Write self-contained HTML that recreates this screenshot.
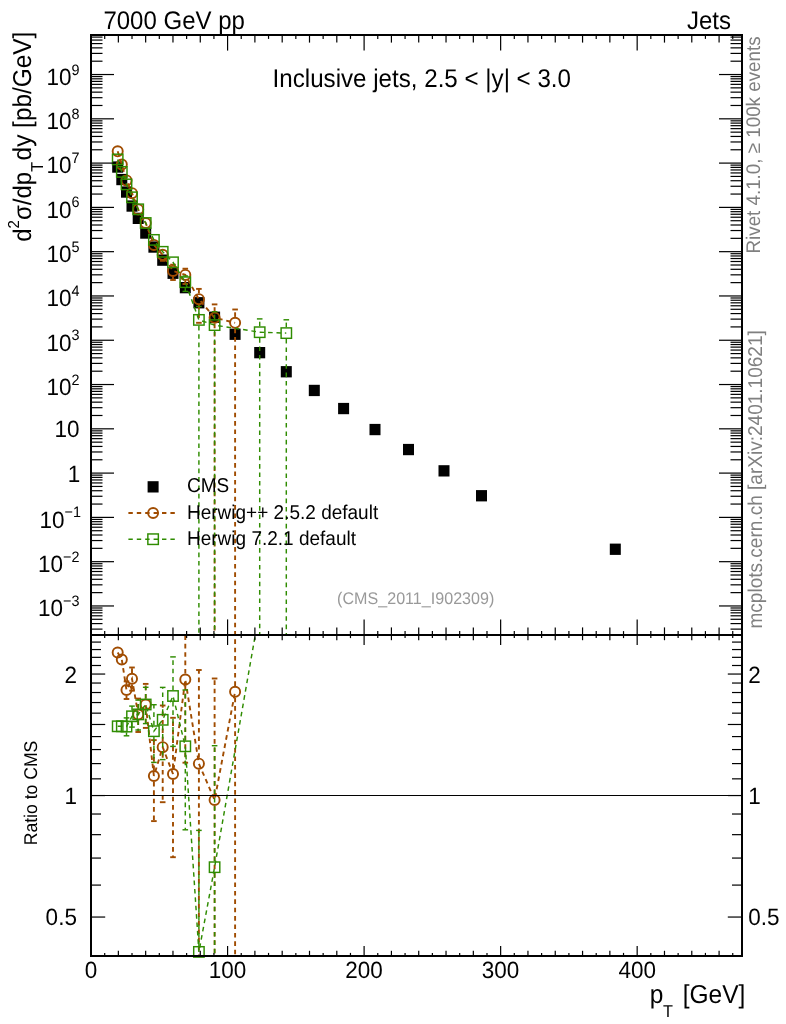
<!DOCTYPE html>
<html><head><meta charset="utf-8"><title>Inclusive jets</title>
<style>html,body{margin:0;padding:0;background:#fff}svg{display:block;text-rendering:geometricPrecision;will-change:transform;opacity:0.999}</style></head>
<body>
<svg width="786" height="1024" viewBox="0 0 786 1024" font-family="'Liberation Sans', sans-serif">
<rect width="786" height="1024" fill="#fff"/>
<defs><clipPath id="cm"><rect x="91.0" y="35.0" width="651.0" height="600.0"/></clipPath><clipPath id="cr"><rect x="91.0" y="635.0" width="651.0" height="321.0"/></clipPath></defs>
<g fill="#000">
<rect x="112.2" y="161.4" width="11" height="11.3"/>
<rect x="116.3" y="173.9" width="11" height="11.3"/>
<rect x="121.0" y="186.4" width="11" height="11.3"/>
<rect x="126.5" y="200.4" width="11" height="11.3"/>
<rect x="132.7" y="212.7" width="11" height="11.3"/>
<rect x="140.2" y="227.4" width="11" height="11.3"/>
<rect x="148.4" y="241.4" width="11" height="11.3"/>
<rect x="157.2" y="254.5" width="11" height="11.3"/>
<rect x="167.5" y="267.6" width="11" height="11.3"/>
<rect x="179.8" y="282.0" width="11" height="11.3"/>
<rect x="193.4" y="297.1" width="11" height="11.3"/>
<rect x="209.1" y="311.6" width="11" height="11.3"/>
<rect x="229.6" y="328.6" width="11" height="11.3"/>
<rect x="254.2" y="347.0" width="11" height="11.3"/>
<rect x="280.8" y="366.1" width="11" height="11.3"/>
<rect x="308.8" y="384.8" width="11" height="11.3"/>
<rect x="338.1" y="402.9" width="11" height="11.3"/>
<rect x="369.5" y="423.9" width="11" height="11.3"/>
<rect x="403.0" y="443.9" width="11" height="11.3"/>
<rect x="438.5" y="465.2" width="11" height="11.3"/>
<rect x="476.0" y="490.1" width="11" height="11.3"/>
<rect x="609.8" y="543.6" width="11" height="11.3"/>
</g>
<g clip-path="url(#cm)" fill="none" stroke="#a04c00" stroke-width="1.9">
<polyline stroke-dasharray="4.6 3.8" points="117.7,151.3 121.8,164.6 126.5,180.4 132.0,193.2 138.2,209.4 145.7,223.0 153.9,244.9 162.7,254.8 173.0,270.9 185.3,274.9 198.9,299.2 214.6,317.7 235.1,322.8"/>
<line stroke-dasharray="4.6 3.8" x1="162.7" y1="260.7" x2="162.7" y2="260.8"/>
<line x1="159.9" y1="260.8" x2="165.5" y2="260.8"/>
<line stroke-dasharray="4.6 3.8" x1="173.0" y1="265.0" x2="173.0" y2="264.7"/>
<line x1="170.2" y1="264.7" x2="175.8" y2="264.7"/>
<line stroke-dasharray="4.6 3.8" x1="173.0" y1="276.8" x2="173.0" y2="280.0"/>
<line x1="170.2" y1="280.0" x2="175.8" y2="280.0"/>
<line stroke-dasharray="4.6 3.8" x1="185.3" y1="269.0" x2="185.3" y2="268.7"/>
<line x1="182.5" y1="268.7" x2="188.1" y2="268.7"/>
<line stroke-dasharray="4.6 3.8" x1="185.3" y1="280.8" x2="185.3" y2="284.0"/>
<line x1="182.5" y1="284.0" x2="188.1" y2="284.0"/>
<line stroke-dasharray="4.6 3.8" x1="198.9" y1="293.3" x2="198.9" y2="288.9"/>
<line x1="196.1" y1="288.9" x2="201.7" y2="288.9"/>
<line stroke-dasharray="4.6 3.8" x1="198.9" y1="305.1" x2="198.9" y2="322.8"/>
<line x1="196.1" y1="322.8" x2="201.7" y2="322.8"/>
<line stroke-dasharray="4.6 3.8" x1="214.6" y1="311.8" x2="214.6" y2="304.4"/>
<line x1="211.8" y1="304.4" x2="217.4" y2="304.4"/>
<line stroke-dasharray="4.6 3.8" x1="214.6" y1="323.6" x2="214.6" y2="640.0"/>
<line stroke-dasharray="4.6 3.8" x1="235.1" y1="316.9" x2="235.1" y2="309.5"/>
<line x1="232.3" y1="309.5" x2="237.9" y2="309.5"/>
<line stroke-dasharray="4.6 3.8" x1="235.1" y1="328.7" x2="235.1" y2="640.0"/>
</g>
<g fill="none" stroke="#a04c00" stroke-width="1.9">
<circle cx="117.7" cy="151.3" r="5.05"/>
<circle cx="121.8" cy="164.6" r="5.05"/>
<circle cx="126.5" cy="180.4" r="5.05"/>
<circle cx="132.0" cy="193.2" r="5.05"/>
<circle cx="138.2" cy="209.4" r="5.05"/>
<circle cx="145.7" cy="223.0" r="5.05"/>
<circle cx="153.9" cy="244.9" r="5.05"/>
<circle cx="162.7" cy="254.8" r="5.05"/>
<circle cx="173.0" cy="270.9" r="5.05"/>
<circle cx="185.3" cy="274.9" r="5.05"/>
<circle cx="198.9" cy="299.2" r="5.05"/>
<circle cx="214.6" cy="317.7" r="5.05"/>
<circle cx="235.1" cy="322.8" r="5.05"/>
</g>
<g clip-path="url(#cr)" fill="none" stroke="#a04c00" stroke-width="1.9">
<polyline stroke-dasharray="4.6 3.8" points="117.7,652.6 121.8,659.5 126.5,690.0 132.0,678.8 138.2,714.5 145.7,704.5 153.9,776.0 162.7,747.2 173.0,774.0 185.3,679.5 198.9,763.7 214.6,800.0 235.1,691.8"/>
<line stroke-dasharray="4.6 3.8" x1="126.5" y1="684.1" x2="126.5" y2="681.4"/>
<line x1="123.7" y1="681.4" x2="129.3" y2="681.4"/>
<line stroke-dasharray="4.6 3.8" x1="126.5" y1="695.9" x2="126.5" y2="699.0"/>
<line x1="123.7" y1="699.0" x2="129.3" y2="699.0"/>
<line stroke-dasharray="4.6 3.8" x1="132.0" y1="672.9" x2="132.0" y2="667.5"/>
<line x1="129.2" y1="667.5" x2="134.8" y2="667.5"/>
<line stroke-dasharray="4.6 3.8" x1="132.0" y1="684.6" x2="132.0" y2="690.7"/>
<line x1="129.2" y1="690.7" x2="134.8" y2="690.7"/>
<line stroke-dasharray="4.6 3.8" x1="138.2" y1="708.6" x2="138.2" y2="698.6"/>
<line x1="135.4" y1="698.6" x2="141.0" y2="698.6"/>
<line stroke-dasharray="4.6 3.8" x1="138.2" y1="720.4" x2="138.2" y2="732.0"/>
<line x1="135.4" y1="732.0" x2="141.0" y2="732.0"/>
<line stroke-dasharray="4.6 3.8" x1="145.7" y1="698.6" x2="145.7" y2="683.9"/>
<line x1="142.9" y1="683.9" x2="148.5" y2="683.9"/>
<line stroke-dasharray="4.6 3.8" x1="145.7" y1="710.4" x2="145.7" y2="727.9"/>
<line x1="142.9" y1="727.9" x2="148.5" y2="727.9"/>
<line stroke-dasharray="4.6 3.8" x1="153.9" y1="770.1" x2="153.9" y2="740.1"/>
<line x1="151.1" y1="740.1" x2="156.7" y2="740.1"/>
<line stroke-dasharray="4.6 3.8" x1="153.9" y1="781.9" x2="153.9" y2="821.1"/>
<line x1="151.1" y1="821.1" x2="156.7" y2="821.1"/>
<line stroke-dasharray="4.6 3.8" x1="162.7" y1="741.4" x2="162.7" y2="705.5"/>
<line x1="159.9" y1="705.5" x2="165.5" y2="705.5"/>
<line stroke-dasharray="4.6 3.8" x1="162.7" y1="753.1" x2="162.7" y2="802.2"/>
<line x1="159.9" y1="802.2" x2="165.5" y2="802.2"/>
<line stroke-dasharray="4.6 3.8" x1="173.0" y1="768.1" x2="173.0" y2="717.8"/>
<line x1="170.2" y1="717.8" x2="175.8" y2="717.8"/>
<line stroke-dasharray="4.6 3.8" x1="173.0" y1="779.9" x2="173.0" y2="857.2"/>
<line x1="170.2" y1="857.2" x2="175.8" y2="857.2"/>
<line stroke-dasharray="4.6 3.8" x1="185.3" y1="673.6" x2="185.3" y2="623.3"/>
<line x1="182.5" y1="623.3" x2="188.1" y2="623.3"/>
<line stroke-dasharray="4.6 3.8" x1="185.3" y1="685.4" x2="185.3" y2="762.7"/>
<line x1="182.5" y1="762.7" x2="188.1" y2="762.7"/>
<line stroke-dasharray="4.6 3.8" x1="198.9" y1="757.8" x2="198.9" y2="670.0"/>
<line x1="196.1" y1="670.0" x2="201.7" y2="670.0"/>
<line stroke-dasharray="4.6 3.8" x1="198.9" y1="769.6" x2="198.9" y2="978.9"/>
<line x1="196.1" y1="978.9" x2="201.7" y2="978.9"/>
<line stroke-dasharray="4.6 3.8" x1="214.6" y1="794.1" x2="214.6" y2="678.5"/>
<line x1="211.8" y1="678.5" x2="217.4" y2="678.5"/>
<line stroke-dasharray="4.6 3.8" x1="214.6" y1="805.9" x2="214.6" y2="961.0"/>
<line stroke-dasharray="4.6 3.8" x1="235.1" y1="685.9" x2="235.1" y2="570.3"/>
<line x1="232.3" y1="570.3" x2="237.9" y2="570.3"/>
<line stroke-dasharray="4.6 3.8" x1="235.1" y1="697.7" x2="235.1" y2="961.0"/>
</g>
<g fill="none" stroke="#a04c00" stroke-width="1.9">
<circle cx="117.7" cy="652.6" r="5.05"/>
<circle cx="121.8" cy="659.5" r="5.05"/>
<circle cx="126.5" cy="690.0" r="5.05"/>
<circle cx="132.0" cy="678.8" r="5.05"/>
<circle cx="138.2" cy="714.5" r="5.05"/>
<circle cx="145.7" cy="704.5" r="5.05"/>
<circle cx="153.9" cy="776.0" r="5.05"/>
<circle cx="162.7" cy="747.2" r="5.05"/>
<circle cx="173.0" cy="774.0" r="5.05"/>
<circle cx="185.3" cy="679.5" r="5.05"/>
<circle cx="198.9" cy="763.7" r="5.05"/>
<circle cx="214.6" cy="800.0" r="5.05"/>
<circle cx="235.1" cy="691.8" r="5.05"/>
</g>
<g clip-path="url(#cm)" fill="none" stroke="#2f8c00" stroke-width="1.45">
<polyline stroke-dasharray="4.6 3.8" points="117.7,159.4 121.8,171.9 126.5,184.4 132.0,197.3 138.2,209.3 145.7,223.0 153.9,239.9 162.7,251.8 173.0,262.3 185.3,282.2 198.9,319.9 214.6,325.1 259.7,332.2 286.3,333.1"/>
<line stroke-dasharray="4.6 3.8" x1="185.3" y1="276.3" x2="185.3" y2="276.0"/>
<line x1="182.5" y1="276.0" x2="188.1" y2="276.0"/>
<line stroke-dasharray="4.6 3.8" x1="185.3" y1="288.1" x2="185.3" y2="291.4"/>
<line x1="182.5" y1="291.4" x2="188.1" y2="291.4"/>
<line stroke-dasharray="4.6 3.8" x1="198.9" y1="314.0" x2="198.9" y2="306.5"/>
<line x1="196.1" y1="306.5" x2="201.7" y2="306.5"/>
<line stroke-dasharray="4.6 3.8" x1="198.9" y1="325.8" x2="198.9" y2="640.0"/>
<line stroke-dasharray="4.6 3.8" x1="214.6" y1="319.2" x2="214.6" y2="311.7"/>
<line x1="211.8" y1="311.7" x2="217.4" y2="311.7"/>
<line stroke-dasharray="4.6 3.8" x1="214.6" y1="331.0" x2="214.6" y2="640.0"/>
<line stroke-dasharray="4.6 3.8" x1="259.7" y1="326.3" x2="259.7" y2="318.9"/>
<line x1="256.9" y1="318.9" x2="262.5" y2="318.9"/>
<line stroke-dasharray="4.6 3.8" x1="259.7" y1="338.1" x2="259.7" y2="640.0"/>
<line stroke-dasharray="4.6 3.8" x1="286.3" y1="327.2" x2="286.3" y2="319.8"/>
<line x1="283.5" y1="319.8" x2="289.1" y2="319.8"/>
<line stroke-dasharray="4.6 3.8" x1="286.3" y1="339.0" x2="286.3" y2="640.0"/>
</g>
<g fill="none" stroke="#2f8c00" stroke-width="1.45">
<rect x="112.5" y="154.2" width="10.4" height="10.4"/>
<rect x="116.6" y="166.7" width="10.4" height="10.4"/>
<rect x="121.3" y="179.2" width="10.4" height="10.4"/>
<rect x="126.8" y="192.1" width="10.4" height="10.4"/>
<rect x="133.0" y="204.1" width="10.4" height="10.4"/>
<rect x="140.5" y="217.8" width="10.4" height="10.4"/>
<rect x="148.7" y="234.7" width="10.4" height="10.4"/>
<rect x="157.5" y="246.6" width="10.4" height="10.4"/>
<rect x="167.8" y="257.1" width="10.4" height="10.4"/>
<rect x="180.1" y="277.0" width="10.4" height="10.4"/>
<rect x="193.7" y="314.7" width="10.4" height="10.4"/>
<rect x="209.4" y="319.9" width="10.4" height="10.4"/>
<rect x="254.5" y="327.0" width="10.4" height="10.4"/>
<rect x="281.1" y="327.9" width="10.4" height="10.4"/>
</g>
<g clip-path="url(#cr)" fill="none" stroke="#2f8c00" stroke-width="1.45">
<polyline stroke-dasharray="4.6 3.8" points="117.7,726.3 121.8,726.3 126.5,726.6 132.0,716.3 138.2,714.4 145.7,704.5 153.9,731.2 162.7,719.8 173.0,696.0 185.3,746.3 198.9,951.9 214.6,867.2 259.7,609.7 286.3,443.8"/>
<line stroke-dasharray="4.6 3.8" x1="126.5" y1="720.7" x2="126.5" y2="717.9"/>
<line x1="123.7" y1="717.9" x2="129.3" y2="717.9"/>
<line stroke-dasharray="4.6 3.8" x1="126.5" y1="732.5" x2="126.5" y2="735.8"/>
<line x1="123.7" y1="735.8" x2="129.3" y2="735.8"/>
<line stroke-dasharray="4.6 3.8" x1="132.0" y1="710.4" x2="132.0" y2="706.1"/>
<line x1="129.2" y1="706.1" x2="134.8" y2="706.1"/>
<line stroke-dasharray="4.6 3.8" x1="132.0" y1="722.2" x2="132.0" y2="727.1"/>
<line x1="129.2" y1="727.1" x2="134.8" y2="727.1"/>
<line stroke-dasharray="4.6 3.8" x1="138.2" y1="708.5" x2="138.2" y2="700.1"/>
<line x1="135.4" y1="700.1" x2="141.0" y2="700.1"/>
<line stroke-dasharray="4.6 3.8" x1="138.2" y1="720.3" x2="138.2" y2="730.0"/>
<line x1="135.4" y1="730.0" x2="141.0" y2="730.0"/>
<line stroke-dasharray="4.6 3.8" x1="145.7" y1="698.6" x2="145.7" y2="687.3"/>
<line x1="142.9" y1="687.3" x2="148.5" y2="687.3"/>
<line stroke-dasharray="4.6 3.8" x1="145.7" y1="710.4" x2="145.7" y2="723.6"/>
<line x1="142.9" y1="723.6" x2="148.5" y2="723.6"/>
<line stroke-dasharray="4.6 3.8" x1="153.9" y1="725.3" x2="153.9" y2="704.7"/>
<line x1="151.1" y1="704.7" x2="156.7" y2="704.7"/>
<line stroke-dasharray="4.6 3.8" x1="153.9" y1="737.1" x2="153.9" y2="762.4"/>
<line x1="151.1" y1="762.4" x2="156.7" y2="762.4"/>
<line stroke-dasharray="4.6 3.8" x1="162.7" y1="713.9" x2="162.7" y2="687.4"/>
<line x1="159.9" y1="687.4" x2="165.5" y2="687.4"/>
<line stroke-dasharray="4.6 3.8" x1="162.7" y1="725.7" x2="162.7" y2="759.6"/>
<line x1="159.9" y1="759.6" x2="165.5" y2="759.6"/>
<line stroke-dasharray="4.6 3.8" x1="173.0" y1="690.1" x2="173.0" y2="656.9"/>
<line x1="170.2" y1="656.9" x2="175.8" y2="656.9"/>
<line stroke-dasharray="4.6 3.8" x1="173.0" y1="701.9" x2="173.0" y2="746.4"/>
<line x1="170.2" y1="746.4" x2="175.8" y2="746.4"/>
<line stroke-dasharray="4.6 3.8" x1="185.3" y1="740.4" x2="185.3" y2="690.0"/>
<line x1="182.5" y1="690.0" x2="188.1" y2="690.0"/>
<line stroke-dasharray="4.6 3.8" x1="185.3" y1="752.2" x2="185.3" y2="829.8"/>
<line x1="182.5" y1="829.8" x2="188.1" y2="829.8"/>
<line stroke-dasharray="4.6 3.8" x1="198.9" y1="946.0" x2="198.9" y2="830.4"/>
<line x1="196.1" y1="830.4" x2="201.7" y2="830.4"/>
<line stroke-dasharray="4.6 3.8" x1="198.9" y1="957.8" x2="198.9" y2="961.0"/>
<line stroke-dasharray="4.6 3.8" x1="214.6" y1="861.3" x2="214.6" y2="745.7"/>
<line x1="211.8" y1="745.7" x2="217.4" y2="745.7"/>
<line stroke-dasharray="4.6 3.8" x1="214.6" y1="873.1" x2="214.6" y2="961.0"/>
</g>
<g fill="none" stroke="#2f8c00" stroke-width="1.45">
<rect x="112.5" y="721.1" width="10.4" height="10.4"/>
<rect x="116.6" y="721.1" width="10.4" height="10.4"/>
<rect x="121.3" y="721.4" width="10.4" height="10.4"/>
<rect x="126.8" y="711.1" width="10.4" height="10.4"/>
<rect x="133.0" y="709.2" width="10.4" height="10.4"/>
<rect x="140.5" y="699.3" width="10.4" height="10.4"/>
<rect x="148.7" y="726.0" width="10.4" height="10.4"/>
<rect x="157.5" y="714.6" width="10.4" height="10.4"/>
<rect x="167.8" y="690.8" width="10.4" height="10.4"/>
<rect x="180.1" y="741.1" width="10.4" height="10.4"/>
<rect x="193.7" y="946.7" width="10.4" height="10.4"/>
<rect x="209.4" y="862.0" width="10.4" height="10.4"/>
</g>
<line x1="91.0" y1="795.55" x2="742.0" y2="795.55" stroke="#000" stroke-width="1.1"/>
<g stroke="#000" stroke-width="2.0" fill="none">
<rect x="91.0" y="35.0" width="651.0" height="921.0"/>
<line x1="91.0" y1="635.0" x2="742.0" y2="635.0"/>
</g>
<g stroke="#000" stroke-width="1.2">
<line x1="104.70" y1="35.0" x2="104.70" y2="38.9"/>
<line x1="104.70" y1="631.1" x2="104.70" y2="638.1"/>
<line x1="104.70" y1="956.0" x2="104.70" y2="952.9"/>
<line x1="118.36" y1="35.0" x2="118.36" y2="42.6"/>
<line x1="118.36" y1="627.4" x2="118.36" y2="640.2"/>
<line x1="118.36" y1="956.0" x2="118.36" y2="950.8"/>
<line x1="132.01" y1="35.0" x2="132.01" y2="38.9"/>
<line x1="132.01" y1="631.1" x2="132.01" y2="638.1"/>
<line x1="132.01" y1="956.0" x2="132.01" y2="952.9"/>
<line x1="145.66" y1="35.0" x2="145.66" y2="42.6"/>
<line x1="145.66" y1="627.4" x2="145.66" y2="640.2"/>
<line x1="145.66" y1="956.0" x2="145.66" y2="950.8"/>
<line x1="159.31" y1="35.0" x2="159.31" y2="38.9"/>
<line x1="159.31" y1="631.1" x2="159.31" y2="638.1"/>
<line x1="159.31" y1="956.0" x2="159.31" y2="952.9"/>
<line x1="172.97" y1="35.0" x2="172.97" y2="42.6"/>
<line x1="172.97" y1="627.4" x2="172.97" y2="640.2"/>
<line x1="172.97" y1="956.0" x2="172.97" y2="950.8"/>
<line x1="186.62" y1="35.0" x2="186.62" y2="38.9"/>
<line x1="186.62" y1="631.1" x2="186.62" y2="638.1"/>
<line x1="186.62" y1="956.0" x2="186.62" y2="952.9"/>
<line x1="200.27" y1="35.0" x2="200.27" y2="42.6"/>
<line x1="200.27" y1="627.4" x2="200.27" y2="640.2"/>
<line x1="200.27" y1="956.0" x2="200.27" y2="950.8"/>
<line x1="213.93" y1="35.0" x2="213.93" y2="38.9"/>
<line x1="213.93" y1="631.1" x2="213.93" y2="638.1"/>
<line x1="213.93" y1="956.0" x2="213.93" y2="952.9"/>
<line x1="227.58" y1="35.0" x2="227.58" y2="50.6"/>
<line x1="227.58" y1="619.4" x2="227.58" y2="645.0"/>
<line x1="227.58" y1="956.0" x2="227.58" y2="946.0"/>
<line x1="241.23" y1="35.0" x2="241.23" y2="38.9"/>
<line x1="241.23" y1="631.1" x2="241.23" y2="638.1"/>
<line x1="241.23" y1="956.0" x2="241.23" y2="952.9"/>
<line x1="254.89" y1="35.0" x2="254.89" y2="42.6"/>
<line x1="254.89" y1="627.4" x2="254.89" y2="640.2"/>
<line x1="254.89" y1="956.0" x2="254.89" y2="950.8"/>
<line x1="268.54" y1="35.0" x2="268.54" y2="38.9"/>
<line x1="268.54" y1="631.1" x2="268.54" y2="638.1"/>
<line x1="268.54" y1="956.0" x2="268.54" y2="952.9"/>
<line x1="282.19" y1="35.0" x2="282.19" y2="42.6"/>
<line x1="282.19" y1="627.4" x2="282.19" y2="640.2"/>
<line x1="282.19" y1="956.0" x2="282.19" y2="950.8"/>
<line x1="295.84" y1="35.0" x2="295.84" y2="38.9"/>
<line x1="295.84" y1="631.1" x2="295.84" y2="638.1"/>
<line x1="295.84" y1="956.0" x2="295.84" y2="952.9"/>
<line x1="309.50" y1="35.0" x2="309.50" y2="42.6"/>
<line x1="309.50" y1="627.4" x2="309.50" y2="640.2"/>
<line x1="309.50" y1="956.0" x2="309.50" y2="950.8"/>
<line x1="323.15" y1="35.0" x2="323.15" y2="38.9"/>
<line x1="323.15" y1="631.1" x2="323.15" y2="638.1"/>
<line x1="323.15" y1="956.0" x2="323.15" y2="952.9"/>
<line x1="336.80" y1="35.0" x2="336.80" y2="42.6"/>
<line x1="336.80" y1="627.4" x2="336.80" y2="640.2"/>
<line x1="336.80" y1="956.0" x2="336.80" y2="950.8"/>
<line x1="350.46" y1="35.0" x2="350.46" y2="38.9"/>
<line x1="350.46" y1="631.1" x2="350.46" y2="638.1"/>
<line x1="350.46" y1="956.0" x2="350.46" y2="952.9"/>
<line x1="364.11" y1="35.0" x2="364.11" y2="50.6"/>
<line x1="364.11" y1="619.4" x2="364.11" y2="645.0"/>
<line x1="364.11" y1="956.0" x2="364.11" y2="946.0"/>
<line x1="377.76" y1="35.0" x2="377.76" y2="38.9"/>
<line x1="377.76" y1="631.1" x2="377.76" y2="638.1"/>
<line x1="377.76" y1="956.0" x2="377.76" y2="952.9"/>
<line x1="391.42" y1="35.0" x2="391.42" y2="42.6"/>
<line x1="391.42" y1="627.4" x2="391.42" y2="640.2"/>
<line x1="391.42" y1="956.0" x2="391.42" y2="950.8"/>
<line x1="405.07" y1="35.0" x2="405.07" y2="38.9"/>
<line x1="405.07" y1="631.1" x2="405.07" y2="638.1"/>
<line x1="405.07" y1="956.0" x2="405.07" y2="952.9"/>
<line x1="418.72" y1="35.0" x2="418.72" y2="42.6"/>
<line x1="418.72" y1="627.4" x2="418.72" y2="640.2"/>
<line x1="418.72" y1="956.0" x2="418.72" y2="950.8"/>
<line x1="432.38" y1="35.0" x2="432.38" y2="38.9"/>
<line x1="432.38" y1="631.1" x2="432.38" y2="638.1"/>
<line x1="432.38" y1="956.0" x2="432.38" y2="952.9"/>
<line x1="446.03" y1="35.0" x2="446.03" y2="42.6"/>
<line x1="446.03" y1="627.4" x2="446.03" y2="640.2"/>
<line x1="446.03" y1="956.0" x2="446.03" y2="950.8"/>
<line x1="459.68" y1="35.0" x2="459.68" y2="38.9"/>
<line x1="459.68" y1="631.1" x2="459.68" y2="638.1"/>
<line x1="459.68" y1="956.0" x2="459.68" y2="952.9"/>
<line x1="473.33" y1="35.0" x2="473.33" y2="42.6"/>
<line x1="473.33" y1="627.4" x2="473.33" y2="640.2"/>
<line x1="473.33" y1="956.0" x2="473.33" y2="950.8"/>
<line x1="486.99" y1="35.0" x2="486.99" y2="38.9"/>
<line x1="486.99" y1="631.1" x2="486.99" y2="638.1"/>
<line x1="486.99" y1="956.0" x2="486.99" y2="952.9"/>
<line x1="500.64" y1="35.0" x2="500.64" y2="50.6"/>
<line x1="500.64" y1="619.4" x2="500.64" y2="645.0"/>
<line x1="500.64" y1="956.0" x2="500.64" y2="946.0"/>
<line x1="514.29" y1="35.0" x2="514.29" y2="38.9"/>
<line x1="514.29" y1="631.1" x2="514.29" y2="638.1"/>
<line x1="514.29" y1="956.0" x2="514.29" y2="952.9"/>
<line x1="527.95" y1="35.0" x2="527.95" y2="42.6"/>
<line x1="527.95" y1="627.4" x2="527.95" y2="640.2"/>
<line x1="527.95" y1="956.0" x2="527.95" y2="950.8"/>
<line x1="541.60" y1="35.0" x2="541.60" y2="38.9"/>
<line x1="541.60" y1="631.1" x2="541.60" y2="638.1"/>
<line x1="541.60" y1="956.0" x2="541.60" y2="952.9"/>
<line x1="555.25" y1="35.0" x2="555.25" y2="42.6"/>
<line x1="555.25" y1="627.4" x2="555.25" y2="640.2"/>
<line x1="555.25" y1="956.0" x2="555.25" y2="950.8"/>
<line x1="568.90" y1="35.0" x2="568.90" y2="38.9"/>
<line x1="568.90" y1="631.1" x2="568.90" y2="638.1"/>
<line x1="568.90" y1="956.0" x2="568.90" y2="952.9"/>
<line x1="582.56" y1="35.0" x2="582.56" y2="42.6"/>
<line x1="582.56" y1="627.4" x2="582.56" y2="640.2"/>
<line x1="582.56" y1="956.0" x2="582.56" y2="950.8"/>
<line x1="596.21" y1="35.0" x2="596.21" y2="38.9"/>
<line x1="596.21" y1="631.1" x2="596.21" y2="638.1"/>
<line x1="596.21" y1="956.0" x2="596.21" y2="952.9"/>
<line x1="609.86" y1="35.0" x2="609.86" y2="42.6"/>
<line x1="609.86" y1="627.4" x2="609.86" y2="640.2"/>
<line x1="609.86" y1="956.0" x2="609.86" y2="950.8"/>
<line x1="623.52" y1="35.0" x2="623.52" y2="38.9"/>
<line x1="623.52" y1="631.1" x2="623.52" y2="638.1"/>
<line x1="623.52" y1="956.0" x2="623.52" y2="952.9"/>
<line x1="637.17" y1="35.0" x2="637.17" y2="50.6"/>
<line x1="637.17" y1="619.4" x2="637.17" y2="645.0"/>
<line x1="637.17" y1="956.0" x2="637.17" y2="946.0"/>
<line x1="650.82" y1="35.0" x2="650.82" y2="38.9"/>
<line x1="650.82" y1="631.1" x2="650.82" y2="638.1"/>
<line x1="650.82" y1="956.0" x2="650.82" y2="952.9"/>
<line x1="664.48" y1="35.0" x2="664.48" y2="42.6"/>
<line x1="664.48" y1="627.4" x2="664.48" y2="640.2"/>
<line x1="664.48" y1="956.0" x2="664.48" y2="950.8"/>
<line x1="678.13" y1="35.0" x2="678.13" y2="38.9"/>
<line x1="678.13" y1="631.1" x2="678.13" y2="638.1"/>
<line x1="678.13" y1="956.0" x2="678.13" y2="952.9"/>
<line x1="691.78" y1="35.0" x2="691.78" y2="42.6"/>
<line x1="691.78" y1="627.4" x2="691.78" y2="640.2"/>
<line x1="691.78" y1="956.0" x2="691.78" y2="950.8"/>
<line x1="705.43" y1="35.0" x2="705.43" y2="38.9"/>
<line x1="705.43" y1="631.1" x2="705.43" y2="638.1"/>
<line x1="705.43" y1="956.0" x2="705.43" y2="952.9"/>
<line x1="719.09" y1="35.0" x2="719.09" y2="42.6"/>
<line x1="719.09" y1="627.4" x2="719.09" y2="640.2"/>
<line x1="719.09" y1="956.0" x2="719.09" y2="950.8"/>
<line x1="732.74" y1="35.0" x2="732.74" y2="38.9"/>
<line x1="732.74" y1="631.1" x2="732.74" y2="638.1"/>
<line x1="732.74" y1="956.0" x2="732.74" y2="952.9"/>
<line x1="91.0" y1="629.12" x2="102.5" y2="629.12"/>
<line x1="742.0" y1="629.12" x2="730.5" y2="629.12"/>
<line x1="91.0" y1="623.59" x2="102.5" y2="623.59"/>
<line x1="742.0" y1="623.59" x2="730.5" y2="623.59"/>
<line x1="91.0" y1="619.29" x2="102.5" y2="619.29"/>
<line x1="742.0" y1="619.29" x2="730.5" y2="619.29"/>
<line x1="91.0" y1="615.79" x2="102.5" y2="615.79"/>
<line x1="742.0" y1="615.79" x2="730.5" y2="615.79"/>
<line x1="91.0" y1="612.82" x2="102.5" y2="612.82"/>
<line x1="742.0" y1="612.82" x2="730.5" y2="612.82"/>
<line x1="91.0" y1="610.25" x2="102.5" y2="610.25"/>
<line x1="742.0" y1="610.25" x2="730.5" y2="610.25"/>
<line x1="91.0" y1="607.99" x2="102.5" y2="607.99"/>
<line x1="742.0" y1="607.99" x2="730.5" y2="607.99"/>
<line x1="91.0" y1="605.96" x2="114.0" y2="605.96"/>
<line x1="742.0" y1="605.96" x2="719.0" y2="605.96"/>
<line x1="91.0" y1="592.63" x2="102.5" y2="592.63"/>
<line x1="742.0" y1="592.63" x2="730.5" y2="592.63"/>
<line x1="91.0" y1="584.83" x2="102.5" y2="584.83"/>
<line x1="742.0" y1="584.83" x2="730.5" y2="584.83"/>
<line x1="91.0" y1="579.30" x2="102.5" y2="579.30"/>
<line x1="742.0" y1="579.30" x2="730.5" y2="579.30"/>
<line x1="91.0" y1="575.01" x2="102.5" y2="575.01"/>
<line x1="742.0" y1="575.01" x2="730.5" y2="575.01"/>
<line x1="91.0" y1="571.50" x2="102.5" y2="571.50"/>
<line x1="742.0" y1="571.50" x2="730.5" y2="571.50"/>
<line x1="91.0" y1="568.54" x2="102.5" y2="568.54"/>
<line x1="742.0" y1="568.54" x2="730.5" y2="568.54"/>
<line x1="91.0" y1="565.97" x2="102.5" y2="565.97"/>
<line x1="742.0" y1="565.97" x2="730.5" y2="565.97"/>
<line x1="91.0" y1="563.70" x2="102.5" y2="563.70"/>
<line x1="742.0" y1="563.70" x2="730.5" y2="563.70"/>
<line x1="91.0" y1="561.68" x2="114.0" y2="561.68"/>
<line x1="742.0" y1="561.68" x2="719.0" y2="561.68"/>
<line x1="91.0" y1="548.34" x2="102.5" y2="548.34"/>
<line x1="742.0" y1="548.34" x2="730.5" y2="548.34"/>
<line x1="91.0" y1="540.55" x2="102.5" y2="540.55"/>
<line x1="742.0" y1="540.55" x2="730.5" y2="540.55"/>
<line x1="91.0" y1="535.01" x2="102.5" y2="535.01"/>
<line x1="742.0" y1="535.01" x2="730.5" y2="535.01"/>
<line x1="91.0" y1="530.72" x2="102.5" y2="530.72"/>
<line x1="742.0" y1="530.72" x2="730.5" y2="530.72"/>
<line x1="91.0" y1="527.21" x2="102.5" y2="527.21"/>
<line x1="742.0" y1="527.21" x2="730.5" y2="527.21"/>
<line x1="91.0" y1="524.25" x2="102.5" y2="524.25"/>
<line x1="742.0" y1="524.25" x2="730.5" y2="524.25"/>
<line x1="91.0" y1="521.68" x2="102.5" y2="521.68"/>
<line x1="742.0" y1="521.68" x2="730.5" y2="521.68"/>
<line x1="91.0" y1="519.42" x2="102.5" y2="519.42"/>
<line x1="742.0" y1="519.42" x2="730.5" y2="519.42"/>
<line x1="91.0" y1="517.39" x2="114.0" y2="517.39"/>
<line x1="742.0" y1="517.39" x2="719.0" y2="517.39"/>
<line x1="91.0" y1="504.06" x2="102.5" y2="504.06"/>
<line x1="742.0" y1="504.06" x2="730.5" y2="504.06"/>
<line x1="91.0" y1="496.26" x2="102.5" y2="496.26"/>
<line x1="742.0" y1="496.26" x2="730.5" y2="496.26"/>
<line x1="91.0" y1="490.73" x2="102.5" y2="490.73"/>
<line x1="742.0" y1="490.73" x2="730.5" y2="490.73"/>
<line x1="91.0" y1="486.44" x2="102.5" y2="486.44"/>
<line x1="742.0" y1="486.44" x2="730.5" y2="486.44"/>
<line x1="91.0" y1="482.93" x2="102.5" y2="482.93"/>
<line x1="742.0" y1="482.93" x2="730.5" y2="482.93"/>
<line x1="91.0" y1="479.96" x2="102.5" y2="479.96"/>
<line x1="742.0" y1="479.96" x2="730.5" y2="479.96"/>
<line x1="91.0" y1="477.40" x2="102.5" y2="477.40"/>
<line x1="742.0" y1="477.40" x2="730.5" y2="477.40"/>
<line x1="91.0" y1="475.13" x2="102.5" y2="475.13"/>
<line x1="742.0" y1="475.13" x2="730.5" y2="475.13"/>
<line x1="91.0" y1="473.10" x2="114.0" y2="473.10"/>
<line x1="742.0" y1="473.10" x2="719.0" y2="473.10"/>
<line x1="91.0" y1="459.77" x2="102.5" y2="459.77"/>
<line x1="742.0" y1="459.77" x2="730.5" y2="459.77"/>
<line x1="91.0" y1="451.97" x2="102.5" y2="451.97"/>
<line x1="742.0" y1="451.97" x2="730.5" y2="451.97"/>
<line x1="91.0" y1="446.44" x2="102.5" y2="446.44"/>
<line x1="742.0" y1="446.44" x2="730.5" y2="446.44"/>
<line x1="91.0" y1="442.15" x2="102.5" y2="442.15"/>
<line x1="742.0" y1="442.15" x2="730.5" y2="442.15"/>
<line x1="91.0" y1="438.64" x2="102.5" y2="438.64"/>
<line x1="742.0" y1="438.64" x2="730.5" y2="438.64"/>
<line x1="91.0" y1="435.68" x2="102.5" y2="435.68"/>
<line x1="742.0" y1="435.68" x2="730.5" y2="435.68"/>
<line x1="91.0" y1="433.11" x2="102.5" y2="433.11"/>
<line x1="742.0" y1="433.11" x2="730.5" y2="433.11"/>
<line x1="91.0" y1="430.84" x2="102.5" y2="430.84"/>
<line x1="742.0" y1="430.84" x2="730.5" y2="430.84"/>
<line x1="91.0" y1="428.82" x2="114.0" y2="428.82"/>
<line x1="742.0" y1="428.82" x2="719.0" y2="428.82"/>
<line x1="91.0" y1="415.49" x2="102.5" y2="415.49"/>
<line x1="742.0" y1="415.49" x2="730.5" y2="415.49"/>
<line x1="91.0" y1="407.69" x2="102.5" y2="407.69"/>
<line x1="742.0" y1="407.69" x2="730.5" y2="407.69"/>
<line x1="91.0" y1="402.16" x2="102.5" y2="402.16"/>
<line x1="742.0" y1="402.16" x2="730.5" y2="402.16"/>
<line x1="91.0" y1="397.86" x2="102.5" y2="397.86"/>
<line x1="742.0" y1="397.86" x2="730.5" y2="397.86"/>
<line x1="91.0" y1="394.36" x2="102.5" y2="394.36"/>
<line x1="742.0" y1="394.36" x2="730.5" y2="394.36"/>
<line x1="91.0" y1="391.39" x2="102.5" y2="391.39"/>
<line x1="742.0" y1="391.39" x2="730.5" y2="391.39"/>
<line x1="91.0" y1="388.82" x2="102.5" y2="388.82"/>
<line x1="742.0" y1="388.82" x2="730.5" y2="388.82"/>
<line x1="91.0" y1="386.56" x2="102.5" y2="386.56"/>
<line x1="742.0" y1="386.56" x2="730.5" y2="386.56"/>
<line x1="91.0" y1="384.53" x2="114.0" y2="384.53"/>
<line x1="742.0" y1="384.53" x2="719.0" y2="384.53"/>
<line x1="91.0" y1="371.20" x2="102.5" y2="371.20"/>
<line x1="742.0" y1="371.20" x2="730.5" y2="371.20"/>
<line x1="91.0" y1="363.40" x2="102.5" y2="363.40"/>
<line x1="742.0" y1="363.40" x2="730.5" y2="363.40"/>
<line x1="91.0" y1="357.87" x2="102.5" y2="357.87"/>
<line x1="742.0" y1="357.87" x2="730.5" y2="357.87"/>
<line x1="91.0" y1="353.58" x2="102.5" y2="353.58"/>
<line x1="742.0" y1="353.58" x2="730.5" y2="353.58"/>
<line x1="91.0" y1="350.07" x2="102.5" y2="350.07"/>
<line x1="742.0" y1="350.07" x2="730.5" y2="350.07"/>
<line x1="91.0" y1="347.11" x2="102.5" y2="347.11"/>
<line x1="742.0" y1="347.11" x2="730.5" y2="347.11"/>
<line x1="91.0" y1="344.54" x2="102.5" y2="344.54"/>
<line x1="742.0" y1="344.54" x2="730.5" y2="344.54"/>
<line x1="91.0" y1="342.27" x2="102.5" y2="342.27"/>
<line x1="742.0" y1="342.27" x2="730.5" y2="342.27"/>
<line x1="91.0" y1="340.25" x2="114.0" y2="340.25"/>
<line x1="742.0" y1="340.25" x2="719.0" y2="340.25"/>
<line x1="91.0" y1="326.91" x2="102.5" y2="326.91"/>
<line x1="742.0" y1="326.91" x2="730.5" y2="326.91"/>
<line x1="91.0" y1="319.12" x2="102.5" y2="319.12"/>
<line x1="742.0" y1="319.12" x2="730.5" y2="319.12"/>
<line x1="91.0" y1="313.58" x2="102.5" y2="313.58"/>
<line x1="742.0" y1="313.58" x2="730.5" y2="313.58"/>
<line x1="91.0" y1="309.29" x2="102.5" y2="309.29"/>
<line x1="742.0" y1="309.29" x2="730.5" y2="309.29"/>
<line x1="91.0" y1="305.78" x2="102.5" y2="305.78"/>
<line x1="742.0" y1="305.78" x2="730.5" y2="305.78"/>
<line x1="91.0" y1="302.82" x2="102.5" y2="302.82"/>
<line x1="742.0" y1="302.82" x2="730.5" y2="302.82"/>
<line x1="91.0" y1="300.25" x2="102.5" y2="300.25"/>
<line x1="742.0" y1="300.25" x2="730.5" y2="300.25"/>
<line x1="91.0" y1="297.99" x2="102.5" y2="297.99"/>
<line x1="742.0" y1="297.99" x2="730.5" y2="297.99"/>
<line x1="91.0" y1="295.96" x2="114.0" y2="295.96"/>
<line x1="742.0" y1="295.96" x2="719.0" y2="295.96"/>
<line x1="91.0" y1="282.63" x2="102.5" y2="282.63"/>
<line x1="742.0" y1="282.63" x2="730.5" y2="282.63"/>
<line x1="91.0" y1="274.83" x2="102.5" y2="274.83"/>
<line x1="742.0" y1="274.83" x2="730.5" y2="274.83"/>
<line x1="91.0" y1="269.30" x2="102.5" y2="269.30"/>
<line x1="742.0" y1="269.30" x2="730.5" y2="269.30"/>
<line x1="91.0" y1="265.01" x2="102.5" y2="265.01"/>
<line x1="742.0" y1="265.01" x2="730.5" y2="265.01"/>
<line x1="91.0" y1="261.50" x2="102.5" y2="261.50"/>
<line x1="742.0" y1="261.50" x2="730.5" y2="261.50"/>
<line x1="91.0" y1="258.53" x2="102.5" y2="258.53"/>
<line x1="742.0" y1="258.53" x2="730.5" y2="258.53"/>
<line x1="91.0" y1="255.97" x2="102.5" y2="255.97"/>
<line x1="742.0" y1="255.97" x2="730.5" y2="255.97"/>
<line x1="91.0" y1="253.70" x2="102.5" y2="253.70"/>
<line x1="742.0" y1="253.70" x2="730.5" y2="253.70"/>
<line x1="91.0" y1="251.67" x2="114.0" y2="251.67"/>
<line x1="742.0" y1="251.67" x2="719.0" y2="251.67"/>
<line x1="91.0" y1="238.34" x2="102.5" y2="238.34"/>
<line x1="742.0" y1="238.34" x2="730.5" y2="238.34"/>
<line x1="91.0" y1="230.54" x2="102.5" y2="230.54"/>
<line x1="742.0" y1="230.54" x2="730.5" y2="230.54"/>
<line x1="91.0" y1="225.01" x2="102.5" y2="225.01"/>
<line x1="742.0" y1="225.01" x2="730.5" y2="225.01"/>
<line x1="91.0" y1="220.72" x2="102.5" y2="220.72"/>
<line x1="742.0" y1="220.72" x2="730.5" y2="220.72"/>
<line x1="91.0" y1="217.21" x2="102.5" y2="217.21"/>
<line x1="742.0" y1="217.21" x2="730.5" y2="217.21"/>
<line x1="91.0" y1="214.25" x2="102.5" y2="214.25"/>
<line x1="742.0" y1="214.25" x2="730.5" y2="214.25"/>
<line x1="91.0" y1="211.68" x2="102.5" y2="211.68"/>
<line x1="742.0" y1="211.68" x2="730.5" y2="211.68"/>
<line x1="91.0" y1="209.41" x2="102.5" y2="209.41"/>
<line x1="742.0" y1="209.41" x2="730.5" y2="209.41"/>
<line x1="91.0" y1="207.39" x2="114.0" y2="207.39"/>
<line x1="742.0" y1="207.39" x2="719.0" y2="207.39"/>
<line x1="91.0" y1="194.06" x2="102.5" y2="194.06"/>
<line x1="742.0" y1="194.06" x2="730.5" y2="194.06"/>
<line x1="91.0" y1="186.26" x2="102.5" y2="186.26"/>
<line x1="742.0" y1="186.26" x2="730.5" y2="186.26"/>
<line x1="91.0" y1="180.73" x2="102.5" y2="180.73"/>
<line x1="742.0" y1="180.73" x2="730.5" y2="180.73"/>
<line x1="91.0" y1="176.43" x2="102.5" y2="176.43"/>
<line x1="742.0" y1="176.43" x2="730.5" y2="176.43"/>
<line x1="91.0" y1="172.93" x2="102.5" y2="172.93"/>
<line x1="742.0" y1="172.93" x2="730.5" y2="172.93"/>
<line x1="91.0" y1="169.96" x2="102.5" y2="169.96"/>
<line x1="742.0" y1="169.96" x2="730.5" y2="169.96"/>
<line x1="91.0" y1="167.39" x2="102.5" y2="167.39"/>
<line x1="742.0" y1="167.39" x2="730.5" y2="167.39"/>
<line x1="91.0" y1="165.13" x2="102.5" y2="165.13"/>
<line x1="742.0" y1="165.13" x2="730.5" y2="165.13"/>
<line x1="91.0" y1="163.10" x2="114.0" y2="163.10"/>
<line x1="742.0" y1="163.10" x2="719.0" y2="163.10"/>
<line x1="91.0" y1="149.77" x2="102.5" y2="149.77"/>
<line x1="742.0" y1="149.77" x2="730.5" y2="149.77"/>
<line x1="91.0" y1="141.97" x2="102.5" y2="141.97"/>
<line x1="742.0" y1="141.97" x2="730.5" y2="141.97"/>
<line x1="91.0" y1="136.44" x2="102.5" y2="136.44"/>
<line x1="742.0" y1="136.44" x2="730.5" y2="136.44"/>
<line x1="91.0" y1="132.15" x2="102.5" y2="132.15"/>
<line x1="742.0" y1="132.15" x2="730.5" y2="132.15"/>
<line x1="91.0" y1="128.64" x2="102.5" y2="128.64"/>
<line x1="742.0" y1="128.64" x2="730.5" y2="128.64"/>
<line x1="91.0" y1="125.68" x2="102.5" y2="125.68"/>
<line x1="742.0" y1="125.68" x2="730.5" y2="125.68"/>
<line x1="91.0" y1="123.11" x2="102.5" y2="123.11"/>
<line x1="742.0" y1="123.11" x2="730.5" y2="123.11"/>
<line x1="91.0" y1="120.84" x2="102.5" y2="120.84"/>
<line x1="742.0" y1="120.84" x2="730.5" y2="120.84"/>
<line x1="91.0" y1="118.82" x2="114.0" y2="118.82"/>
<line x1="742.0" y1="118.82" x2="719.0" y2="118.82"/>
<line x1="91.0" y1="105.48" x2="102.5" y2="105.48"/>
<line x1="742.0" y1="105.48" x2="730.5" y2="105.48"/>
<line x1="91.0" y1="97.69" x2="102.5" y2="97.69"/>
<line x1="742.0" y1="97.69" x2="730.5" y2="97.69"/>
<line x1="91.0" y1="92.15" x2="102.5" y2="92.15"/>
<line x1="742.0" y1="92.15" x2="730.5" y2="92.15"/>
<line x1="91.0" y1="87.86" x2="102.5" y2="87.86"/>
<line x1="742.0" y1="87.86" x2="730.5" y2="87.86"/>
<line x1="91.0" y1="84.35" x2="102.5" y2="84.35"/>
<line x1="742.0" y1="84.35" x2="730.5" y2="84.35"/>
<line x1="91.0" y1="81.39" x2="102.5" y2="81.39"/>
<line x1="742.0" y1="81.39" x2="730.5" y2="81.39"/>
<line x1="91.0" y1="78.82" x2="102.5" y2="78.82"/>
<line x1="742.0" y1="78.82" x2="730.5" y2="78.82"/>
<line x1="91.0" y1="76.56" x2="102.5" y2="76.56"/>
<line x1="742.0" y1="76.56" x2="730.5" y2="76.56"/>
<line x1="91.0" y1="74.53" x2="114.0" y2="74.53"/>
<line x1="742.0" y1="74.53" x2="719.0" y2="74.53"/>
<line x1="91.0" y1="61.20" x2="102.5" y2="61.20"/>
<line x1="742.0" y1="61.20" x2="730.5" y2="61.20"/>
<line x1="91.0" y1="53.40" x2="102.5" y2="53.40"/>
<line x1="742.0" y1="53.40" x2="730.5" y2="53.40"/>
<line x1="91.0" y1="47.87" x2="102.5" y2="47.87"/>
<line x1="742.0" y1="47.87" x2="730.5" y2="47.87"/>
<line x1="91.0" y1="43.58" x2="102.5" y2="43.58"/>
<line x1="742.0" y1="43.58" x2="730.5" y2="43.58"/>
<line x1="91.0" y1="40.07" x2="102.5" y2="40.07"/>
<line x1="742.0" y1="40.07" x2="730.5" y2="40.07"/>
<line x1="91.0" y1="37.10" x2="102.5" y2="37.10"/>
<line x1="742.0" y1="37.10" x2="730.5" y2="37.10"/>
<line x1="91.0" y1="917.05" x2="105.2" y2="917.05"/>
<line x1="742.0" y1="917.05" x2="727.8" y2="917.05"/>
<line x1="91.0" y1="885.09" x2="101.0" y2="885.09"/>
<line x1="742.0" y1="885.09" x2="732.0" y2="885.09"/>
<line x1="91.0" y1="858.07" x2="101.0" y2="858.07"/>
<line x1="742.0" y1="858.07" x2="732.0" y2="858.07"/>
<line x1="91.0" y1="834.66" x2="101.0" y2="834.66"/>
<line x1="742.0" y1="834.66" x2="732.0" y2="834.66"/>
<line x1="91.0" y1="814.02" x2="101.0" y2="814.02"/>
<line x1="742.0" y1="814.02" x2="732.0" y2="814.02"/>
<line x1="91.0" y1="795.55" x2="105.2" y2="795.55"/>
<line x1="742.0" y1="795.55" x2="727.8" y2="795.55"/>
<line x1="91.0" y1="778.84" x2="101.0" y2="778.84"/>
<line x1="742.0" y1="778.84" x2="732.0" y2="778.84"/>
<line x1="91.0" y1="763.59" x2="101.0" y2="763.59"/>
<line x1="742.0" y1="763.59" x2="732.0" y2="763.59"/>
<line x1="91.0" y1="749.56" x2="101.0" y2="749.56"/>
<line x1="742.0" y1="749.56" x2="732.0" y2="749.56"/>
<line x1="91.0" y1="736.57" x2="101.0" y2="736.57"/>
<line x1="742.0" y1="736.57" x2="732.0" y2="736.57"/>
<line x1="91.0" y1="724.48" x2="105.2" y2="724.48"/>
<line x1="742.0" y1="724.48" x2="727.8" y2="724.48"/>
<line x1="91.0" y1="713.16" x2="101.0" y2="713.16"/>
<line x1="742.0" y1="713.16" x2="732.0" y2="713.16"/>
<line x1="91.0" y1="702.54" x2="101.0" y2="702.54"/>
<line x1="742.0" y1="702.54" x2="732.0" y2="702.54"/>
<line x1="91.0" y1="692.52" x2="101.0" y2="692.52"/>
<line x1="742.0" y1="692.52" x2="732.0" y2="692.52"/>
<line x1="91.0" y1="683.04" x2="101.0" y2="683.04"/>
<line x1="742.0" y1="683.04" x2="732.0" y2="683.04"/>
<line x1="91.0" y1="674.05" x2="105.2" y2="674.05"/>
<line x1="742.0" y1="674.05" x2="727.8" y2="674.05"/>
<line x1="91.0" y1="665.50" x2="101.0" y2="665.50"/>
<line x1="742.0" y1="665.50" x2="732.0" y2="665.50"/>
<line x1="91.0" y1="657.34" x2="101.0" y2="657.34"/>
<line x1="742.0" y1="657.34" x2="732.0" y2="657.34"/>
<line x1="91.0" y1="649.55" x2="101.0" y2="649.55"/>
<line x1="742.0" y1="649.55" x2="732.0" y2="649.55"/>
<line x1="91.0" y1="642.09" x2="101.0" y2="642.09"/>
<line x1="742.0" y1="642.09" x2="732.0" y2="642.09"/>
</g>
<g fill="#000">
<text transform="translate(103.4,28.5) scale(1,1.06)" font-size="24">7000 GeV pp</text>
<text transform="translate(731.0,28.5) scale(1,1.06)" font-size="24" text-anchor="end">Jets</text>
<text transform="translate(421.8,86.5) scale(1,1.06)" font-size="24.15" text-anchor="middle">Inclusive jets, 2.5 &lt; |y| &lt; 3.0</text>
<text transform="translate(79.5,616.3) scale(1,1.05)" font-size="22.5" text-anchor="end">10<tspan font-size="14.4" dy="-9.81">−3</tspan></text>
<text transform="translate(79.5,572.0) scale(1,1.05)" font-size="22.5" text-anchor="end">10<tspan font-size="14.4" dy="-9.81">−2</tspan></text>
<text transform="translate(81.0,527.7) scale(1,1.05)" font-size="22.5" text-anchor="end">10<tspan font-size="14.4" dy="-9.81">−1</tspan></text>
<text transform="translate(80.3,481.5) scale(1,1.05)" font-size="22.5" text-anchor="end">1</text>
<text transform="translate(79.6,437.2) scale(1,1.05)" font-size="22.5" text-anchor="end">10</text>
<text transform="translate(79.5,394.8) scale(1,1.05)" font-size="22.5" text-anchor="end">10<tspan font-size="14.4" dy="-9.81">2</tspan></text>
<text transform="translate(79.5,350.5) scale(1,1.05)" font-size="22.5" text-anchor="end">10<tspan font-size="14.4" dy="-9.81">3</tspan></text>
<text transform="translate(79.5,306.3) scale(1,1.05)" font-size="22.5" text-anchor="end">10<tspan font-size="14.4" dy="-9.81">4</tspan></text>
<text transform="translate(79.5,262.0) scale(1,1.05)" font-size="22.5" text-anchor="end">10<tspan font-size="14.4" dy="-9.81">5</tspan></text>
<text transform="translate(79.5,217.7) scale(1,1.05)" font-size="22.5" text-anchor="end">10<tspan font-size="14.4" dy="-9.81">6</tspan></text>
<text transform="translate(79.5,173.4) scale(1,1.05)" font-size="22.5" text-anchor="end">10<tspan font-size="14.4" dy="-9.81">7</tspan></text>
<text transform="translate(79.5,129.1) scale(1,1.05)" font-size="22.5" text-anchor="end">10<tspan font-size="14.4" dy="-9.81">8</tspan></text>
<text transform="translate(79.5,84.8) scale(1,1.05)" font-size="22.5" text-anchor="end">10<tspan font-size="14.4" dy="-9.81">9</tspan></text>
<text transform="translate(76.9,682.9) scale(1,1.05)" font-size="22.5" text-anchor="end">2</text>
<text transform="translate(748.2,682.9) scale(1,1.05)" font-size="22.5">2</text>
<text transform="translate(76.9,803.9) scale(1,1.05)" font-size="22.5" text-anchor="end">1</text>
<text transform="translate(748.2,803.9) scale(1,1.05)" font-size="22.5">1</text>
<text transform="translate(76.9,924.9) scale(1,1.05)" font-size="22.5" text-anchor="end">0.5</text>
<text transform="translate(748.2,924.9) scale(1,1.05)" font-size="22.5">0.5</text>
<text transform="translate(91.0,978.0) scale(1,1.05)" font-size="22.5" text-anchor="middle">0</text>
<text transform="translate(227.6,978.0) scale(1,1.05)" font-size="22.5" text-anchor="middle">100</text>
<text transform="translate(364.1,978.0) scale(1,1.05)" font-size="22.5" text-anchor="middle">200</text>
<text transform="translate(500.6,978.0) scale(1,1.05)" font-size="22.5" text-anchor="middle">300</text>
<text transform="translate(637.2,978.0) scale(1,1.05)" font-size="22.5" text-anchor="middle">400</text>
<text transform="translate(649.8,1003.4) scale(1,1.06)" font-size="24.5">p</text>
<text transform="translate(663.0,1016.8) scale(1,1.06)" font-size="16.3">T</text>
<text transform="translate(745.3,1003.4) scale(1,1.06)" font-size="24.5" text-anchor="end">[GeV]</text>
<text transform="translate(31.4,31.6) rotate(-90) scale(1,1.06)" font-size="24" text-anchor="end">d<tspan font-size="15" dy="-11.60">2</tspan><tspan dy="11.60">σ/dp</tspan><tspan font-size="16.3" dy="11.13">T</tspan><tspan dy="-11.13" dx="1.5" font-size="24.4">dy [pb/GeV]</tspan></text>
<text transform="translate(36.7,793.0) rotate(-90) scale(1,1.05)" font-size="17.6" text-anchor="middle">Ratio to CMS</text>
<text transform="translate(187.0,492.4) scale(1,1.05)" font-size="19">CMS</text>
<text transform="translate(187.0,518.6) scale(1,1.05)" font-size="19">Herwig++ 2.5.2 default</text>
<text transform="translate(187.0,544.9) scale(1,1.05)" font-size="19">Herwig 7.2.1 default</text>
</g>
<g fill="#808080">
<text transform="translate(415.7,603.5) scale(1,1.05)" font-size="16.1" text-anchor="middle" fill="#999">(CMS_2011_I902309)</text>
<text transform="translate(760.3,253.5) rotate(-90) scale(1,1.05)" font-size="18.8">Rivet 4.1.0, ≥ 100k events</text>
<text transform="translate(761.5,628.5) rotate(-90) scale(1,1.05)" font-size="19.05">mcplots.cern.ch [arXiv:2401.10621]</text>
</g>
<rect x="147.6" y="481.2" width="11" height="11.3" fill="#000"/>
<g fill="none" stroke-width="1.9"><line x1="128.4" y1="513" x2="175.2" y2="513" stroke="#a04c00" stroke-dasharray="4.4 4.0"/><circle cx="153.1" cy="513" r="5.0" stroke="#a04c00"/></g>
<g fill="none" stroke-width="1.45"><line x1="128.4" y1="539.2" x2="175.2" y2="539.2" stroke="#2f8c00" stroke-dasharray="4.4 4.0"/><rect x="147.85" y="533.95" width="10.5" height="10.5" stroke="#2f8c00"/></g>
</svg>
</body></html>
